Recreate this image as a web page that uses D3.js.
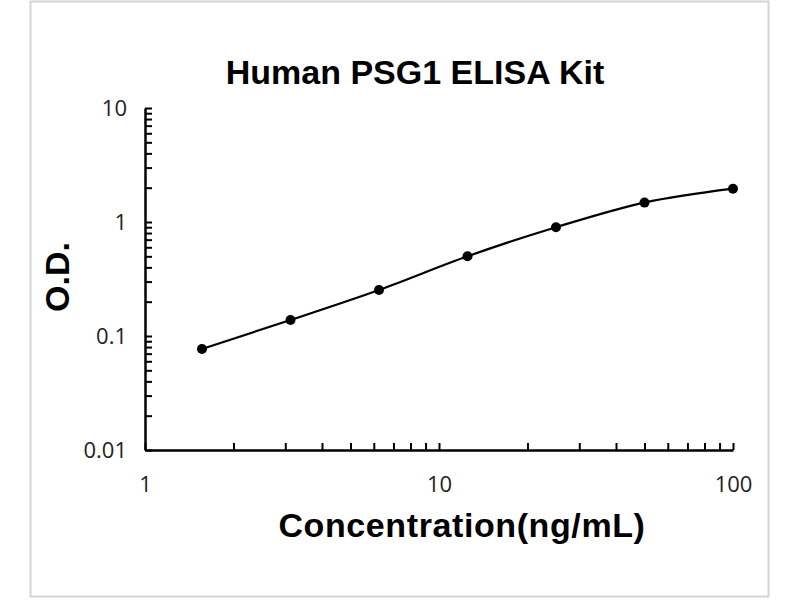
<!DOCTYPE html>
<html>
<head>
<meta charset="utf-8">
<script src="https://cdn.jsdelivr.net/npm/d3@7"></script>
<style>
  body { margin: 0; background: #fff; }
  .tick text { font-family: "Open Sans", "Liberation Sans", sans-serif; font-size: 22px; fill: #222; }
  .title, .axis-title { font-family: "Liberation Sans", Arial, sans-serif; font-weight: bold; fill: #000; }
</style>
</head>
<body>
<div id="chart"></div>
<script>
// Standard curve data
const concentration = [1.5625, 3.125, 6.25, 12.5, 25, 50, 100];
const od = [0.077, 0.138, 0.253, 0.50, 0.90, 1.48, 1.96];

const xMajorTicks = [1, 10, 100];
const yMajorTicks = [0.01, 0.1, 1, 10];

const chartTitle = 'Human PSG1 ELISA Kit';
const xTitle = 'Concentration(ng/mL)';
const yTitle = 'O.D.';

const width = 800, height = 600;
const margin = {top: 108, right: 67, bottom: 150, left: 145};

const svg = d3.select('#chart').append('svg')
    .attr('width', width)
    .attr('height', height);

// Light frame around the whole chart
svg.append('rect')
    .attr('x', 30.5)
    .attr('y', 1.5)
    .attr('width', 738)
    .attr('height', 595)
    .attr('fill', '#fff')
    .attr('stroke', '#d4d4d4')
    .attr('stroke-width', 2);

const innerW = width - margin.left - margin.right;
const innerH = height - margin.top - margin.bottom;

const chart = svg.append('g')
    .attr('transform', `translate(${margin.left},${margin.top})`);

const x = d3.scaleLog().domain([1, 100]).range([0, innerW]);
const y = d3.scaleLog().domain([0.01, 10]).range([innerH, 0]);

// minor tick values 2..9 in each decade
const minorOf = (lo, hi) => {
  const out = [];
  for (let d = lo; d < hi; d *= 10) {
    for (let k = 2; k <= 9; k++) out.push(d * k);
  }
  return out;
};

// x axis: minor + major ticks pointing inward
chart.append('g')
    .attr('transform', `translate(0,${innerH})`)
    .call(d3.axisBottom(x).tickValues(minorOf(1, 100)).tickSize(-7).tickFormat(''))
    .call(g => g.select('.domain').remove())
    .selectAll('line').attr('stroke', '#000').attr('stroke-width', 2);

const xAxis = chart.append('g')
    .attr('transform', `translate(0,${innerH})`)
    .call(d3.axisBottom(x).tickValues(xMajorTicks).tickSize(-7).tickSizeOuter(0)
      .tickPadding(26).tickFormat(d3.format('d')));
xAxis.select('.domain').attr('stroke', '#000').attr('stroke-width', 2.5);
xAxis.selectAll('line').attr('stroke', '#000').attr('stroke-width', 2);

// y axis
chart.append('g')
    .call(d3.axisLeft(y).tickValues(minorOf(0.01, 10)).tickSize(-7).tickFormat(''))
    .call(g => g.select('.domain').remove())
    .selectAll('line').attr('stroke', '#000').attr('stroke-width', 2);

const yAxis = chart.append('g')
    .call(d3.axisLeft(y).tickValues(yMajorTicks).tickSize(-7).tickSizeOuter(0)
      .tickPadding(18).tickFormat(d => String(d)));
yAxis.select('.domain').attr('stroke', '#000').attr('stroke-width', 2.5);
yAxis.selectAll('line').attr('stroke', '#000').attr('stroke-width', 2);

// data
const points = concentration.map((c, i) => ({c, v: od[i]}));

const line = d3.line()
    .x(d => x(d.c))
    .y(d => y(d.v))
    .curve(d3.curveMonotoneX);

chart.append('path')
    .datum(points)
    .attr('fill', 'none')
    .attr('stroke', '#000')
    .attr('stroke-width', 2.2)
    .attr('d', line);

chart.selectAll('.dot')
    .data(points)
  .join('circle')
    .attr('class', 'dot')
    .attr('cx', d => x(d.c))
    .attr('cy', d => y(d.v))
    .attr('r', 5)
    .attr('fill', '#000');

// titles
svg.append('text')
    .attr('class', 'title')
    .attr('x', 415)
    .attr('y', 84)
    .attr('text-anchor', 'middle')
    .style('font-size', '34px')
    .text(chartTitle);

svg.append('text')
    .attr('class', 'axis-title')
    .attr('x', 462)
    .attr('y', 537)
    .attr('text-anchor', 'middle')
    .style('font-size', '34px')
    .style('letter-spacing', '0.6px')
    .text(xTitle);

svg.append('text')
    .attr('class', 'axis-title')
    .attr('transform', 'translate(69,277) rotate(-90)')
    .attr('text-anchor', 'middle')
    .style('font-size', '34px')
    .text(yTitle);
</script>
</body>
</html>
